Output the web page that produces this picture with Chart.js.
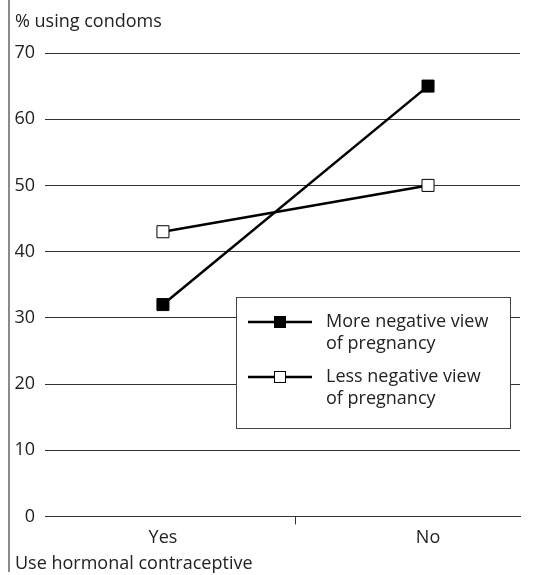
<!DOCTYPE html>
<html>
<head>
<meta charset="utf-8">
<script src="https://cdn.jsdelivr.net/npm/chart.js@4"></script>
<style>
  html, body { margin: 0; padding: 0; background: #fff; }
  #wrap { width: 537px; height: 575px; }
</style>
</head>
<body>
<div id="wrap"><canvas id="grafico"></canvas></div>
<script>
var categorias = ['Yes', 'No'];
var posicoes = [0, 1];
var maisNegativa = [32, 65];
var menosNegativa = [43, 50];
var nomesSeries = [['More negative view', 'of pregnancy'], ['Less negative view', 'of pregnancy']];
var ticksY = [0, 10, 20, 30, 40, 50, 60, 70];

var fonte = "'Open Sans', 'Liberation Sans', sans-serif";
var corTexto = '#222';

function pontos(valores) {
    return posicoes.map((p, i) => ({ x: p, y: valores[i] }));
}

// linha cinza vertical na esquerda + caixa da legenda
var extras = {
    id: 'extras',
    beforeDraw(chart) {
        var ctx = chart.ctx;
        ctx.save();
        ctx.strokeStyle = '#8a8a8a';
        ctx.lineWidth = 2;
        ctx.beginPath();
        ctx.moveTo(9, 0);
        ctx.lineTo(9, chart.height - 3);
        ctx.stroke();
        ctx.restore();
    },
    afterDatasetsDraw(chart) {
        var ctx = chart.ctx;
        var area = chart.chartArea;
        var x0 = area.left + 191, y0 = area.top + 244, w = 274, h = 131;
        ctx.save();
        ctx.fillStyle = '#fff';
        ctx.fillRect(x0, y0, w, h);
        ctx.strokeStyle = '#444';
        ctx.lineWidth = 1;
        ctx.strokeRect(x0 + 0.5, y0 + 0.5, w, h);
        chart.data.datasets.forEach((ds, i) => {
            var cy = y0 + 25 + i * 55;
            ctx.strokeStyle = '#000';
            ctx.lineWidth = 2.5;
            ctx.beginPath();
            ctx.moveTo(x0 + 12, cy);
            ctx.lineTo(x0 + 76, cy);
            ctx.stroke();
            ctx.fillStyle = ds.pointBackgroundColor;
            ctx.fillRect(x0 + 38.5, cy - 5.5, 11, 11);
            ctx.lineWidth = 1;
            ctx.strokeRect(x0 + 38.5, cy - 5.5, 11, 11);
            ctx.fillStyle = corTexto;
            ctx.font = '18px ' + fonte;
            ctx.textBaseline = 'middle';
            nomesSeries[i].forEach((linha, j) => {
                ctx.fillText(linha, x0 + 90, cy + j * 22);
            });
        });
        ctx.restore();
    }
};

new Chart(document.getElementById('grafico').getContext('2d'), {
    type: 'line',
    data: {
        datasets: [{
            label: nomesSeries[0].join(' '),
            data: pontos(maisNegativa),
            borderColor: '#000',
            borderWidth: 2.5,
            pointStyle: 'rect',
            pointRadius: 8.5,
            pointBackgroundColor: '#000',
            pointBorderColor: '#000',
            pointBorderWidth: 1
        }, {
            label: nomesSeries[1].join(' '),
            data: pontos(menosNegativa),
            borderColor: '#000',
            borderWidth: 2.5,
            pointStyle: 'rect',
            pointRadius: 8.5,
            pointBackgroundColor: '#fff',
            pointBorderColor: '#000',
            pointBorderWidth: 1
        }]
    },
    options: {
        responsive: true,
        maintainAspectRatio: false,
        animation: false,
        layout: { padding: { left: 15, right: 17, top: 11, bottom: 0 } },
        plugins: {
            legend: { display: false },
            tooltip: { enabled: false },
            title: {
                display: true,
                text: '% using condoms',
                align: 'start',
                color: corTexto,
                font: { family: fonte, size: 18, weight: 'normal' },
                padding: { top: 0, bottom: 20.4 }
            },
            subtitle: {
                display: true,
                position: 'bottom',
                text: 'Use hormonal contraceptive',
                align: 'start',
                color: corTexto,
                font: { family: fonte, size: 18, weight: 'normal' },
                padding: { top: 3, bottom: 0 }
            }
        },
        scales: {
            x: {
                type: 'linear',
                min: -0.445,
                max: 1.347,
                afterBuildTicks(scale) {
                    scale.ticks = [{ value: 0 }, { value: 0.5 }, { value: 1 }];
                },
                border: { display: true, color: '#333', width: 1 },
                grid: {
                    drawOnChartArea: false,
                    drawTicks: true,
                    tickLength: 8,
                    color: (c) => c.tick && c.tick.value === 0.5 ? '#333' : 'rgba(0,0,0,0)'
                },
                ticks: {
                    color: corTexto,
                    font: { family: fonte, size: 18 },
                    padding: 2.2,
                    maxRotation: 0,
                    autoSkip: false,
                    callback: (v) => v === 0 ? categorias[0] : (v === 1 ? categorias[1] : '')
                }
            },
            y: {
                min: 0,
                max: 70,
                afterBuildTicks(scale) {
                    scale.ticks = ticksY.map(v => ({ value: v }));
                },
                afterFit(scale) { scale.width = 30; },
                border: { display: false },
                grid: { color: '#333', lineWidth: 1, drawTicks: false },
                ticks: {
                    color: corTexto,
                    font: { family: fonte, size: 18 },
                    padding: 10
                }
            }
        }
    },
    plugins: [extras]
});
</script>
</body>
</html>
